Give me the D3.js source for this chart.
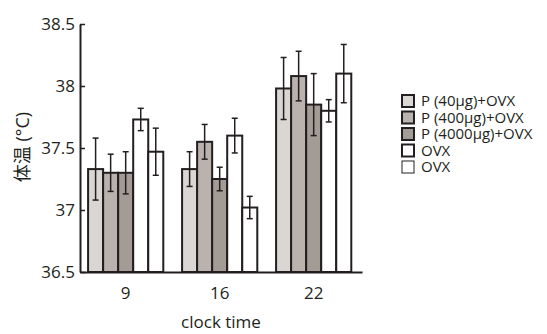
<!DOCTYPE html>
<html>
<head>
<meta charset="utf-8">
<script src="https://cdn.jsdelivr.net/npm/d3@7"></script>
<style>
  body { margin: 0; background: #fff; }
  text { font-family: "Open Sans", "Noto Sans", sans-serif; fill: #231f20; }
</style>
</head>
<body>
<div id="chart"></div>
<script>
const clockTimes = ["9", "16", "22"];
const seriesNames = ["P (40\u03bcg)+OVX", "P (400\u03bcg)+OVX", "P (4000\u03bcg)+OVX", "OVX", "OVX"];
const seriesMeans = [
    [37.33, 37.30, 37.30, 37.73, 37.47],
    [37.33, 37.55, 37.25, 37.60, 37.02],
    [37.98, 38.08, 37.85, 37.80, 38.10]
];
const seriesErrors = [
    [0.25, 0.15, 0.17, 0.09, 0.19],
    [0.14, 0.14, 0.095, 0.14, 0.09],
    [0.25, 0.20, 0.25, 0.09, 0.235]
];
const yTicks = [36.5, 37, 37.5, 38, 38.5];
const seriesFills = ["#d9d6d3", "#bab2ae", "#a39b96", "#ffffff", "#ffffff"];

const width = 547, height = 334;
const dark = "#231f20";

const svg = d3.select("#chart").append("svg")
    .attr("width", width)
    .attr("height", height);

const x = d3.scaleBand()
    .domain(clockTimes)
    .range([80, 362])
    .paddingInner(0.2)
    .paddingOuter(0.1)
    .align(0.43);

const xInner = d3.scaleBand()
    .domain(d3.range(seriesNames.length))
    .range([0, x.bandwidth()]);

const y = d3.scaleLinear()
    .domain([36.5, 38.5])
    .range([272, 24]);

const data = clockTimes.flatMap((t, gi) => seriesNames.map((name, si) => ({
    time: t,
    series: si,
    mean: seriesMeans[gi][si],
    err: seriesErrors[gi][si]
})));

// bars
const bars = svg.append("g").selectAll("g")
    .data(data)
    .enter()
    .append("g")
        .attr("transform", d => `translate(${x(d.time) + xInner(d.series)}, 0)`);

bars.append("rect")
    .attr("x", 0)
    .attr("y", d => y(d.mean))
    .attr("width", xInner.bandwidth())
    .attr("height", d => y(36.5) - y(d.mean))
    .attr("fill", d => seriesFills[d.series])
    .attr("stroke", dark)
    .attr("stroke-width", 2);

// error bars
const cx = xInner.bandwidth() / 2;
bars.append("line")
    .attr("x1", cx).attr("x2", cx)
    .attr("y1", d => y(d.mean + d.err))
    .attr("y2", d => y(d.mean - d.err))
    .attr("stroke", dark)
    .attr("stroke-width", 1.5);

bars.selectAll(".cap")
    .data(d => [d.mean + d.err, d.mean - d.err])
    .enter()
    .append("line")
        .attr("x1", cx - 3).attr("x2", cx + 3)
        .attr("y1", v => y(v)).attr("y2", v => y(v))
        .attr("stroke", dark)
        .attr("stroke-width", 1.5);

// axes
const yAxis = svg.append("g")
    .attr("transform", "translate(80,0)")
    .call(d3.axisLeft(y)
        .tickValues(yTicks)
        .tickFormat(d3.format(""))
        .tickSizeInner(-5)
        .tickSizeOuter(0)
        .tickPadding(5));

const xAxis = svg.append("g")
    .attr("transform", "translate(0,272)")
    .call(d3.axisBottom(x).tickSize(0).tickPadding(15));

[yAxis, xAxis].forEach(a => {
    a.select(".domain").attr("stroke", dark).attr("stroke-width", 2);
    a.selectAll(".tick line").attr("stroke", dark).attr("stroke-width", 1.5);
    a.selectAll("text")
        .style("font-family", "'Open Sans', sans-serif")
        .style("font-size", "17px")
        .attr("fill", dark);
});

svg.append("text")
    .attr("x", 221)
    .attr("y", 328)
    .attr("text-anchor", "middle")
    .style("font-size", "17px")
    .text("clock time");

svg.append("text")
    .attr("transform", "translate(29,147) rotate(-90)")
    .attr("text-anchor", "middle")
    .style("font-family", "'Open Sans', 'Noto Sans CJK JP', sans-serif")
    .style("font-size", "18px")
    .text("\u4f53\u6e29 (\u00b0C)");

// legend
const legend = svg.append("g")
    .attr("transform", "translate(402,95)")
    .selectAll("g")
    .data(seriesNames)
    .enter()
    .append("g")
        .attr("transform", (d, i) => `translate(0, ${i * 16.5})`);

legend.append("rect")
    .attr("width", 12)
    .attr("height", 12)
    .attr("fill", (d, i) => seriesFills[i])
    .attr("stroke", dark)
    .attr("stroke-width", (d, i) => i === 4 ? 1 : 2);

legend.append("text")
    .attr("x", 19)
    .attr("y", 6)
    .attr("dy", "0.35em")
    .style("font-size", "15px")
    .text(d => d);
</script>
</body>
</html>
